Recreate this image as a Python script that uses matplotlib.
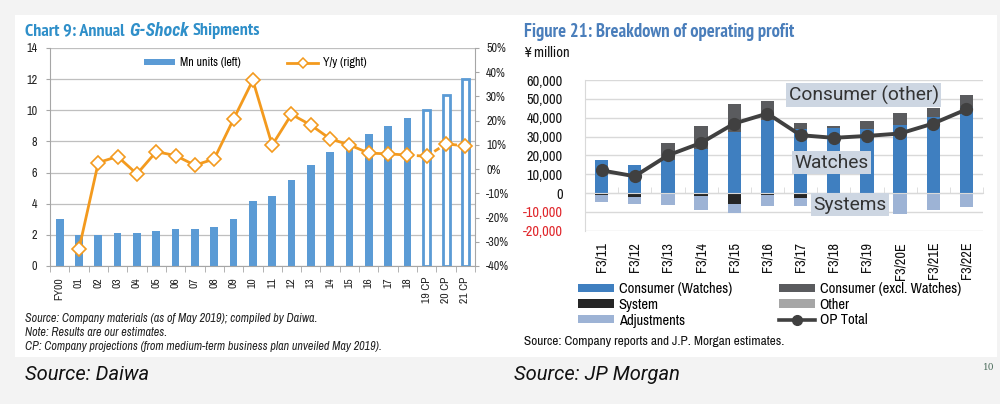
import numpy as np
import matplotlib
matplotlib.use("Agg")
import matplotlib.pyplot as plt
from matplotlib import font_manager as fm
from matplotlib.patches import Rectangle, Patch
from matplotlib.lines import Line2D

names = {f.name for f in fm.fontManager.ttflist}
NARROW_CANDS = ['Liberation Sans Narrow', 'Arial Narrow', 'Archivo Narrow', 'PT Sans Narrow',
                'Roboto Condensed']
NARROW = 'Liberation Sans'
for cand in NARROW_CANDS:
    if cand in names:
        NARROW = cand
        break


def _wnum(w):
    if isinstance(w, (int, float)):
        return w
    return {'bold': 700, 'heavy': 800, 'black': 900, 'extra bold': 800, 'semibold': 600,
            'demibold': 600, 'ultrabold': 800}.get(str(w).lower(), 400)


def has_bold(name, italic=False):
    for f in fm.fontManager.ttflist:
        if f.name == name and _wnum(f.weight) >= 700:
            if not italic or f.style in ('italic', 'oblique'):
                return True
    return False


BOLDFONT = 'Liberation Sans'
for cand in [NARROW] + NARROW_CANDS:
    if cand in names and has_bold(cand):
        BOLDFONT = cand
        break
BOLDITALIC = BOLDFONT if has_bold(BOLDFONT, italic=True) else 'Liberation Sans'
for cand in [BOLDFONT] + NARROW_CANDS:
    if cand in names and has_bold(cand, italic=True):
        BOLDITALIC = cand
        break

plt.rcParams['font.family'] = [NARROW, 'DejaVu Sans']

# ---------------- data: Chart 9 (Daiwa) ----------------
gs_years = ['FY00', '01', '02', '03', '04', '05', '06', '07', '08', '09', '10',
            '11', '12', '13', '14', '15', '16', '17', '18', '19 CP', '20 CP', '21 CP']
gs_units = [3.0, 2.0, 2.0, 2.15, 2.1, 2.25, 2.37, 2.4, 2.5, 3.0, 4.15,
            4.5, 5.5, 6.5, 7.3, 7.8, 8.5, 9.0, 9.5, 10.0, 11.0, 12.0]
gs_yoy = [np.nan, -33.0, 2.7, 5.2, -2.0, 7.2, 5.6, 1.6, 4.2, 20.6, 36.7,
          9.9, 22.6, 18.2, 12.5, 10.0, 6.6, 6.3, 5.8, 5.3, 10.4, 9.6]
gs_projection = [False] * 19 + [True] * 3

# ---------------- data: Figure 21 (JP Morgan) ----------------
op_years = ['F3/11', 'F3/12', 'F3/13', 'F3/14', 'F3/15', 'F3/16',
            'F3/17', 'F3/18', 'F3/19', 'F3/20E', 'F3/21E', 'F3/22E']
op_watches = [17400, 14700, 17400, 23600, 32300, 38700, 34200, 34600, 34200, 36000, 40100, 45700]
op_consumer_other = [0, 0, 9200, 11900, 15200, 10100, 3200, 1000, 4100, 6600, 5100, 6300]
op_other = [0, 0, 0, 0, 0, 0, 0, 0, 0, 0, 0, 0]
op_system = [-1300, -2000, -300, -1500, -5600, -1300, -2400, -1000, -800, -700, -500, -200]
op_adjust = [-3700, -4000, -6200, -7700, -5000, -5800, -4500, -5300, -7200, -10600, -8700, -7200]
op_total = [12000, 8900, 20000, 26600, 36900, 42200, 30700, 29300, 30300, 31600, 36900, 44400]

W, H = 1000, 404
fig = plt.figure(figsize=(W / 100, H / 100), dpi=100)
fig.patch.set_facecolor('#f3f3f3')


def fx(px):
    return px / W


def fy(py):
    return 1 - py / H


# white card
fig.patches.append(Rectangle((fx(15), fy(357)), fx(997) - fx(15), fy(15) - fy(357),
                             transform=fig.transFigure, facecolor='white', edgecolor='none', zorder=-5))

# ================= LEFT CHART =================
BLUE = '#5b9bd5'
ORANGE = '#f39a1e'
GRID = '#bfbfbf'
axL = fig.add_axes([fx(50), fy(266), fx(475) - fx(50), fy(48) - fy(266)])
axL.set_facecolor('none')
x = np.arange(len(gs_years))
for i, (v, p) in enumerate(zip(gs_units, gs_projection)):
    if p:
        axL.bar(i, v, width=0.36, facecolor='white', edgecolor=BLUE, linewidth=2.0, zorder=2)
    else:
        axL.bar(i, v, width=0.4, facecolor=BLUE, edgecolor='none', zorder=2)
axL.set_xlim(-0.5, len(gs_years) - 0.5)
axL.set_ylim(0, 14)
axL.set_yticks(np.arange(0, 15, 2))
axL.yaxis.grid(True, color=GRID, linewidth=0.9, zorder=0)
axL.set_axisbelow(True)
for s in ['top', 'right']:
    axL.spines[s].set_visible(False)
axL.spines['left'].set_color('#a6a6a6')
axL.spines['bottom'].set_color('#a6a6a6')
axL.tick_params(axis='y', length=3, color='#a6a6a6', pad=6, labelsize=8.7, labelcolor='#222')
axL.set_xticks(x)
axL.set_xticklabels(gs_years, rotation=90, fontsize=8.3, color='#222')
axL.set_xticks(np.arange(-0.5, len(gs_years), 1), minor=True)
axL.tick_params(axis='x', which='major', length=0, pad=8)
axL.tick_params(axis='x', which='minor', length=4, color='#a6a6a6')

axR = axL.twinx()
axR.set_ylim(-40, 50)
axR.set_yticks(np.arange(-40, 51, 10))
axR.set_yticklabels([f'{t}%' for t in range(-40, 51, 10)])
for s in ['top', 'left', 'bottom']:
    axR.spines[s].set_visible(False)
axR.spines['right'].set_color('#a6a6a6')
axR.tick_params(axis='y', length=3, color='#a6a6a6', pad=5, labelsize=8.7, labelcolor='#222')
yy = np.array(gs_yoy)
axR.plot(x[1:19], yy[1:19], color=ORANGE, lw=2.0, zorder=3)
axR.plot(x[18:], yy[18:], color=ORANGE, lw=2.0, ls=(0, (2.2, 1.2)), zorder=3)
axR.plot(x[1:], yy[1:], ls='none', marker='D', ms=7, mfc='white', mec=ORANGE, mew=1.2, zorder=4)

handlesL = [Patch(facecolor=BLUE, edgecolor='none'),
            Line2D([], [], color=ORANGE, lw=2.0, marker='D', ms=5.5, mfc='white', mec=ORANGE, mew=1.1)]
fig.legend(handlesL, ['Mn units (left)', 'Y/y (right)'], loc='center left',
           bbox_to_anchor=(fx(144), fy(63)), ncol=2, frameon=False, fontsize=8.7,
           handlelength=2.6, handleheight=0.45, columnspacing=3.8, handletextpad=0.4,
           borderaxespad=0, borderpad=0)

# ================= RIGHT CHART =================
WBLUE = '#3f7fc0'
DGRAY = '#5a5b5e'
SYS = '#262626'
ADJ = '#9db3d5'
OTH = '#a6a6a6'
LGRID = '#d9d9d9'
ax2 = fig.add_axes([fx(585), fy(230.7), fx(983) - fx(585), fy(80) - fy(230.7)])
ax2.set_facecolor('none')
xr = np.arange(len(op_years))
wat = np.array(op_watches)
con = np.array(op_consumer_other)
oth = np.array(op_other)
sysv = np.array(op_system)
adj = np.array(op_adjust)
bw = 0.4
ax2.bar(xr, wat, bw, color=WBLUE, zorder=2)
ax2.bar(xr, con, bw, bottom=wat, color=DGRAY, zorder=2)
ax2.bar(xr, oth, bw, bottom=wat + con, color=OTH, zorder=2)
ax2.bar(xr, sysv, bw, color=SYS, zorder=2)
ax2.bar(xr, adj, bw, bottom=sysv, color=ADJ, zorder=2)
ax2.plot(xr, op_total, color='#404040', lw=2.8, marker='o', ms=8.5, zorder=4)
ax2.set_xlim(-0.5, len(op_years) - 0.5)
ax2.set_ylim(-20000, 60000)
yt = np.arange(-20000, 60001, 10000)
ax2.set_yticks(yt)
ax2.set_yticklabels([f'{int(t):,}' for t in yt])
for lab, t in zip(ax2.get_yticklabels(), yt):
    lab.set_color('#e0262b' if t < 0 else '#111')
ax2.yaxis.grid(True, color=LGRID, linewidth=1.0, zorder=0)
ax2.set_axisbelow(True)
for s in ['top', 'right']:
    ax2.spines[s].set_visible(False)
ax2.spines['left'].set_color(LGRID)
ax2.spines['bottom'].set_position(('data', 0))
ax2.spines['bottom'].set_color(LGRID)
ax2.tick_params(axis='y', length=0, pad=16, labelsize=10.3)
ax2.set_xticks([])
ax2.set_xticks(np.arange(-0.5, len(op_years), 1), minor=True)
ax2.tick_params(axis='x', which='minor', length=4, direction='in', color=LGRID)
sec = ax2.secondary_xaxis(0)
sec.set_xticks(xr)
sec.set_xticklabels(op_years, rotation=90, fontsize=10.3, color='#111')
sec.tick_params(length=0, pad=8)
sec.spines['bottom'].set_visible(False)

box = dict(boxstyle='square,pad=0.12', facecolor='#cdd6e2', edgecolor='none')
ax2.text(7.9, 52000, 'Consumer (other)', ha='center', va='center', fontsize=13.8,
         family='Roboto', color='#333', bbox=box, zorder=6)
ax2.text(6.94, 16200, 'Watches', ha='center', va='center', fontsize=13.8,
         family='Roboto', color='#333', bbox=box, zorder=6)
ax2.text(7.5, -6200, 'Systems', ha='center', va='center', fontsize=13.8,
         family='Roboto', color='#333', bbox=box, zorder=6)

handlesR = [Patch(facecolor=WBLUE), Patch(facecolor=SYS), Patch(facecolor=ADJ),
            Patch(facecolor=DGRAY), Patch(facecolor=OTH),
            Line2D([], [], color='#404040', lw=2.6, marker='o', ms=7)]
labelsR = ['Consumer (Watches)', 'System', 'Adjustments',
           'Consumer (excl. Watches)', 'Other', 'OP Total']
fig.legend(handlesR, labelsR, loc='upper left', bbox_to_anchor=(fx(578), fy(282)),
           ncol=2, frameon=False, fontsize=10.5,
           handlelength=2.5, handleheight=0.5, columnspacing=3.2, handletextpad=0.3,
           labelspacing=0.12, borderaxespad=0, borderpad=0)

# ================= TEXTS =================
fig.canvas.draw()
rend = fig.canvas.get_renderer()


def rich(xp, yp, parts, gap_em, target_w, fs, **kw):
    # measure at fs, then rescale so the whole line spans target_w pixels
    tmp = []
    total = 0
    for s, style in parts:
        t = fig.text(0, 0, s, fontsize=fs, **kw, **style)
        total += t.get_window_extent(renderer=rend).width
        tmp.append(t)
    total += gap_em * fs * 100 / 72 * (len(parts) - 1)
    for t in tmp:
        t.remove()
    fs2 = fs * target_w / total
    cx = fx(xp)
    for s, style in parts:
        t = fig.text(cx, fy(yp), s, va='center', ha='left', fontsize=fs2, **kw, **style)
        bb = t.get_window_extent(renderer=rend)
        cx += (bb.width + gap_em * fs2 * 100 / 72) / W


rich(25, 31, [('Chart 9: Annual', {'fontweight': 'bold', 'family': BOLDFONT}),
              ('G-Shock', {'fontweight': 'bold', 'fontstyle': 'italic', 'family': BOLDITALIC}),
              ('Shipments', {'fontweight': 'bold', 'family': BOLDFONT})], 0.25, 235, 11.5,
     color='#2f8fc9')
rich(524, 32, [('Figure 21: Breakdown of operating profit',
                {'fontweight': 'bold', 'family': BOLDFONT})],
     0.25, 269, 12.2, color='#4a7ebb')
fig.text(fx(524), fy(53), '¥ million', fontsize=10.5, color='#111', va='center')

foot = ['Source: Company materials (as of May 2019); compiled by Daiwa.',
        'Note: Results are our estimates.',
        'CP: Company projections (from medium-term business plan unveiled May 2019).']
for s, yp in zip(foot, [318, 332, 346]):
    fig.text(fx(25), fy(yp), s, fontsize=8.7, fontstyle='italic', color='#222', va='center')
fig.text(fx(524), fy(341.5), 'Source: Company reports and J.P. Morgan estimates.',
         fontsize=9.6, color='#111', va='center')

fig.text(fx(25), fy(375), 'Source: Daiwa', fontsize=14.5, fontstyle='italic',
         family='Roboto', color='#111', va='center')
fig.text(fx(514), fy(375), 'Source: JP Morgan', fontsize=14.5, fontstyle='italic',
         family='Roboto', color='#111', va='center')
fig.text(fx(983), fy(368), '10', fontsize=6.5, family='DejaVu Serif', color='#4a6b5a',
         va='center')

fig.savefig('out.png', dpi=100, facecolor=fig.get_facecolor())
